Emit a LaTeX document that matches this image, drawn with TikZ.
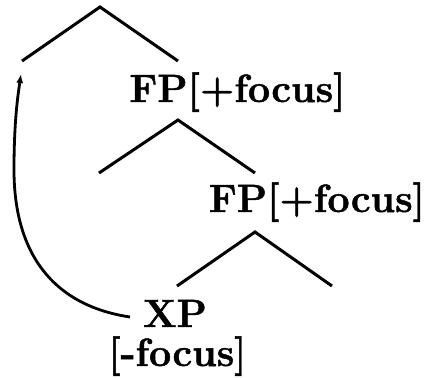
\documentclass[tikz,border=0pt]{standalone}
\usepackage{fontspec}
\setmainfont{Latin Modern Roman}[BoldFeatures={FakeBold=1.2}]
\usetikzlibrary{arrows.meta}
\begin{document}
\begin{tikzpicture}[x=1pt,y=-1pt,
  branch/.style={line width=3pt,line join=miter},
  label/.style={font=\fontsize{39.4}{42}\selectfont\bfseries,inner sep=0pt,anchor=base},
  move/.style={line width=2.8pt,-{Latex[length=9pt,width=7pt]}}]
  \useasboundingbox (0,0) rectangle (429,378);
  % upper branching
  \coordinate (t1) at (100,7);
  \coordinate (l1) at (22,61);
  \coordinate (r1) at (178,61);
  \draw[branch] (l1) -- (t1) -- (r1);
  \node[label] (fp1) at (237.5,102) {FP[+focus]};
  % middle branching
  \coordinate (t2) at (178,120);
  \coordinate (l2) at (99,173);
  \coordinate (r2) at (255,173);
  \draw[branch] (l2) -- (t2) -- (r2);
  \node[label] (fp2) at (317,212) {FP[+focus]};
  % lower branching
  \coordinate (t3) at (255,232);
  \coordinate (l3) at (177,286);
  \coordinate (r3) at (332,286);
  \draw[branch] (l3) -- (t3) -- (r3);
  \node[label] (xp) at (175,327) {XP};
  \node[label] (feat) at (177.5,366) {[-focus]};
  % movement arrow from XP to the top left position
  \coordinate (src) at (130,317);
  \coordinate (bend) at (14,170);
  \coordinate (dst) at (21,74);
  \draw[move] (src) .. controls (50,305) and (14,250) .. (bend)
              .. controls (14,120) and (18,95) .. (dst);
\end{tikzpicture}
\end{document}
